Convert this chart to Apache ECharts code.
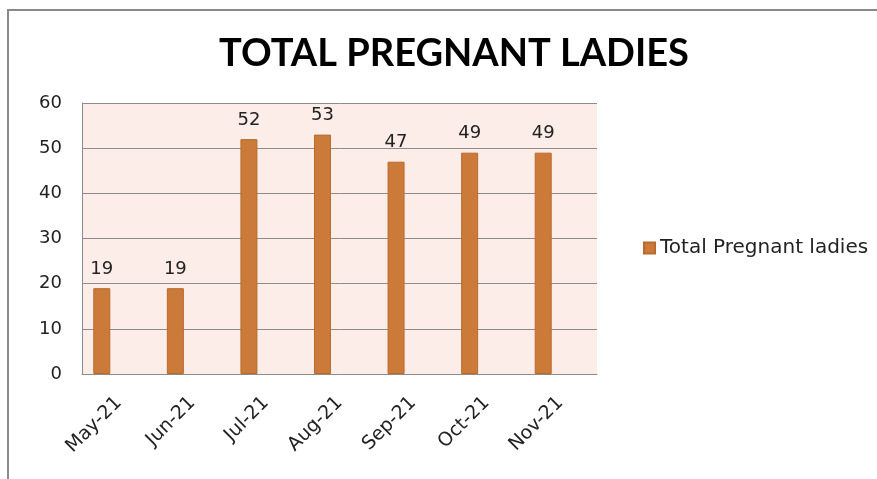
<!DOCTYPE html>
<html style="height: 100%">
   <head>
       <meta charset="utf-8">
   </head>
   <body style="height: 100%; margin: 0; background: #fff">
       <div id="container" style="height: 100%"></div>
       <script type="text/javascript" src="https://cdn.jsdelivr.net/npm/echarts@6/dist/echarts.min.js"></script>
       <script type="text/javascript">
var dom = document.getElementById("container");
var myChart = echarts.init(dom);

// months on the x axis
var months = ['May-21', 'Jun-21', 'Jul-21', 'Aug-21', 'Sep-21', 'Oct-21', 'Nov-21'];
var pregnantLadies = [19, 19, 52, 53, 47, 49, 49];
// excel had two empty series next to it, they shift the bars left
var emptySeries = [];

var labelFont = 'DejaVu Sans';

var option = {
    animation: false,
    title: {
        text: 'TOTAL PREGNANT LADIES',
        left: 449,
        textAlign: 'center',
        top: 30,
        textStyle: {
            fontFamily: 'Liberation Sans Narrow, Lato',
            fontWeight: 'bold',
            fontSize: 38,
            color: '#000'
        }
    },
    legend: {
        data: ['Total Pregnant ladies'],
        orient: 'vertical',
        left: 638,
        top: 233,
        icon: 'rect',
        itemWidth: 11,
        itemHeight: 11,
        itemGap: 8,
        textStyle: {
            fontFamily: labelFont,
            fontSize: 20,
            color: '#222'
        }
    },
    grid: {
        show: true,
        left: 82,
        right: 280,
        top: 103,
        bottom: 105,
        backgroundColor: '#fcede8',
        borderWidth: 0
    },
    xAxis: {
        type: 'category',
        data: months,
        axisLine: { lineStyle: { color: '#8c8c8c', width: 1 } },
        axisTick: { show: false },
        axisLabel: {
            rotate: 45,
            margin: 26,
            fontFamily: labelFont,
            fontSize: 19,
            color: '#222'
        }
    },
    yAxis: {
        type: 'value',
        min: 0,
        max: 60,
        interval: 10,
        axisLine: { show: true, lineStyle: { color: '#8c8c8c', width: 1 } },
        axisTick: { show: false },
        splitLine: { lineStyle: { color: '#8c8c8c', width: 1 } },
        axisLabel: {
            margin: 20,
            fontFamily: labelFont,
            fontSize: 18,
            color: '#222'
        }
    },
    graphic: [{
        type: 'rect',
        shape: { x: 8, y: 10, width: 900, height: 500 },
        style: { fill: 'none', stroke: '#8a8a8a', lineWidth: 2 },
        silent: true
    }],
    series: [{
        name: 'Total Pregnant ladies',
        type: 'bar',
        data: pregnantLadies,
        barWidth: 17,
        barGap: '0%',
        itemStyle: { color: '#cc7a3a', borderColor: '#b96a2c', borderWidth: 1 },
        label: {
            show: true,
            position: 'top',
            distance: 10,
            fontFamily: labelFont,
            fontSize: 18,
            color: '#222'
        }
    }, {
        name: 'blank1',
        type: 'bar',
        data: emptySeries,
        barWidth: 17,
        barGap: '0%'
    }, {
        name: 'blank2',
        type: 'bar',
        data: emptySeries,
        barWidth: 17,
        barGap: '0%'
    }]
};

myChart.setOption(option, true);
       </script>
   </body>
</html>
